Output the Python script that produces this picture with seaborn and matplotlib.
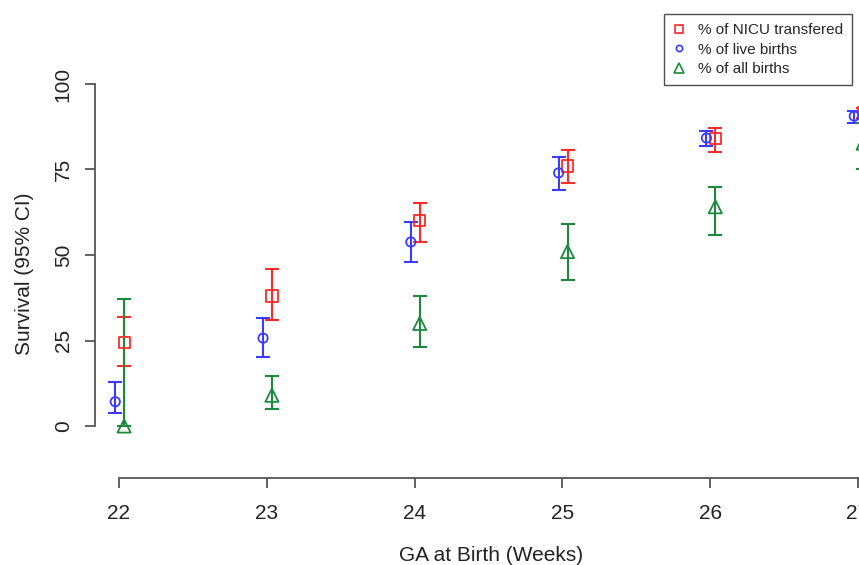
import pandas as pd
import seaborn as sns
import matplotlib.pyplot as plt
from matplotlib.lines import Line2D

# Dados
weeks = [22, 23, 24, 25, 26, 27]

nicu = [24.3, 38, 60, 76, 84, 91.5]
nicu_lo = [17.5, 31, 53.8, 71, 80.2, 90]
nicu_hi = [32, 46, 65.2, 80.7, 87.1, 93]

live = [7.1, 25.7, 53.8, 74, 84.2, 90.6]
live_lo = [3.9, 20.2, 48, 69, 81.9, 88.5]
live_hi = [13, 31.6, 59.6, 78.7, 86.3, 92.2]

allb = [0, 9, 30, 51, 64.1, 82.7]
allb_lo = [0, 5, 23, 42.7, 55.8, 75]
allb_hi = [37.1, 14.6, 38, 59, 70, 88.6]

labels = ['% of NICU transfered', '% of live births', '% of all births']
colors = ['#ff2a2a', '#3b3bff', '#1c8a3c']
markers = ['s', 'o', '^']
offsets = [0.035, -0.025, 0.035]

sns.set_style('white')
plt.rcParams['font.family'] = ['Liberation Sans', 'DejaVu Sans']

fig = plt.figure(figsize=(8.59, 5.65), dpi=100)
ax = fig.add_axes([95 / 859, 87 / 565, 792.5 / 859, 407.7 / 565])

series = [(nicu, nicu_lo, nicu_hi), (live, live_lo, live_hi), (allb, allb_lo, allb_hi)]
sizes = [65, 45, 90]

for (val, lo, hi), lab, col, mk, off, sz in zip(series, labels, colors, markers, offsets, sizes):
    df = pd.DataFrame({'x': [w + off for w in weeks], 'y': val, 'lo': lo, 'hi': hi})
    ax.errorbar(df['x'], df['y'], yerr=[df['y'] - df['lo'], df['hi'] - df['y']],
                fmt='none', ecolor=col, elinewidth=1.5, capsize=5, capthick=1.5, zorder=2)
    sns.scatterplot(data=df, x='x', y='y', ax=ax, marker=mk, s=sz,
                    facecolor='none', edgecolor=col, linewidth=1.3, zorder=3, legend=False)

ax.set_xlim(21.838, 27.2)
ax.set_ylim(-15.2, 104)
ax.set_xticks(weeks)
ax.set_yticks([0, 25, 50, 75, 100])

for s in ['top', 'right']:
    ax.spines[s].set_visible(False)
ax.spines['left'].set_bounds(0, 100)
ax.spines['bottom'].set_bounds(22, 27)
for s in ['left', 'bottom']:
    ax.spines[s].set_color('#555555')
    ax.spines[s].set_linewidth(1.3)

ax.tick_params(axis='both', direction='out', length=7, width=1.3, color='#555555',
               labelsize=15, labelcolor='#222222', left=True, bottom=True)
ax.tick_params(axis='x', pad=12)
ax.tick_params(axis='y', pad=9)
for t in ax.get_yticklabels():
    t.set_rotation(90)
    t.set_va('center')

ax.set_xlabel('GA at Birth (Weeks)', fontsize=15, color='#222222', labelpad=16)
ax.set_ylabel('Survival (95% CI)', fontsize=15, color='#222222', labelpad=14)

handles = [Line2D([], [], linestyle='none', marker=mk, markersize=ms, markerfacecolor='none',
                  markeredgecolor=col, markeredgewidth=1.2)
           for mk, col, ms in zip(markers, colors, [6, 4.5, 7])]
leg = fig.legend(handles, labels, loc='upper left', bbox_to_anchor=(664 / 859, 1 - 14 / 565),
                 fontsize=11, frameon=True, fancybox=False, borderaxespad=0,
                 handlelength=0.8, handletextpad=0.8, labelspacing=0.35, borderpad=0.6)
leg.get_frame().set_edgecolor('#222222')
leg.get_frame().set_linewidth(1.0)

fig.savefig('out.png', dpi=100)
